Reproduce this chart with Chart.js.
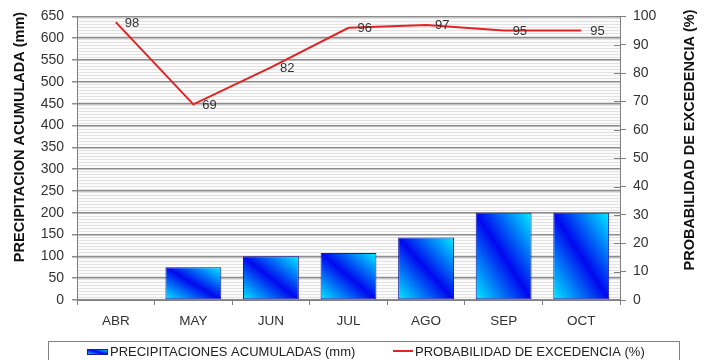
<!DOCTYPE html>
<html>
<head>
<meta charset="utf-8">
<script src="https://cdn.jsdelivr.net/npm/chart.js@4.4.1/dist/chart.umd.min.js"></script>
<style>
  html, body { margin: 0; padding: 0; background: #fff; }
  #wrap { width: 712px; height: 360px; }
</style>
</head>
<body>
<div id="wrap"><canvas id="grafico" width="712" height="360"></canvas></div>
<script>
    var meses = ['ABR', 'MAY', 'JUN', 'JUL', 'AGO', 'SEP', 'OCT'];
    var precipitacion = [0, 75, 100, 108, 143, 200, 200];
    var probabilidad = [98, 69, 82, 96, 97, 95, 95];
    var ticksMm = { min: 0, max: 650, step: 50 };
    var ticksPct = { min: 0, max: 100, step: 10 };

    var fuente = '"Liberation Sans", Arial, sans-serif';
    var anchoBarra = 0.72;

    // degradado diagonal: azul en la diagonal, celeste en las esquinas
    function degradado(ctx, x0, y0, w, h) {
        var cx = x0 + w / 2, cy = y0 + h / 2;
        var k = (w * h) / (w * w + h * h);
        var g = ctx.createLinearGradient(cx - k * h, cy + k * w, cx + k * h, cy - k * w);
        g.addColorStop(0, '#00f0ff');
        g.addColorStop(0.5, '#0008f0');
        g.addColorStop(1, '#00f0ff');
        return g;
    }

    function colorBarra(c) {
        var chart = c.chart;
        if (!chart.chartArea || c.dataIndex === undefined) return '#0000ff';
        var sx = chart.scales.x, sy = chart.scales.y;
        var w = sx.width / meses.length * anchoBarra;
        var cx = sx.getPixelForValue(c.dataIndex);
        var top = sy.getPixelForValue(c.raw);
        var base = sy.getPixelForValue(0);
        if (base - top <= 0) return '#0000ff';
        return degradado(chart.ctx, cx - w / 2, top, w, base - top);
    }

    // fondo rayado del area del grafico
    var fondo = {
        id: 'fondo',
        beforeDraw: function (chart) {
            var ctx = chart.ctx, a = chart.chartArea;
            ctx.save();
            ctx.fillStyle = '#ffffff';
            ctx.fillRect(0, 0, chart.width, chart.height);
            var p = document.createElement('canvas');
            p.width = 4; p.height = 3;
            var pc = p.getContext('2d');
            pc.fillStyle = '#fbfbfb';
            pc.fillRect(0, 0, 4, 3);
            pc.fillStyle = '#e2e2e2';
            pc.fillRect(0, 0, 4, 1);
            ctx.fillStyle = ctx.createPattern(p, 'repeat');
            ctx.fillRect(a.left, a.top, a.right - a.left, a.bottom - a.top);
            ctx.restore();
        }
    };

    // valores de probabilidad junto a cada punto
    var etiquetas = {
        id: 'etiquetas',
        afterDatasetsDraw: function (chart) {
            var ctx = chart.ctx;
            var meta = chart.getDatasetMeta(1);
            ctx.save();
            ctx.font = '13px ' + fuente;
            ctx.fillStyle = '#333';
            ctx.textAlign = 'left';
            ctx.textBaseline = 'middle';
            meta.data.forEach(function (pt, i) {
                ctx.fillText(String(probabilidad[i]), pt.x + 9, pt.y + 1);
            });
            ctx.restore();
        }
    };

    // titulos de ejes, marcas internas del eje derecho y leyenda
    var extras = {
        id: 'extras',
        afterDraw: function (chart) {
            var ctx = chart.ctx, a = chart.chartArea;
            ctx.save();
            ctx.fillStyle = '#111';
            ctx.font = 'bold 14.5px ' + fuente;
            ctx.textAlign = 'center';
            ctx.textBaseline = 'middle';
            ctx.translate(20, 137);
            ctx.rotate(-Math.PI / 2);
            ctx.fillText('PRECIPITACION ACUMULADA (mm)', 0, 0);
            ctx.restore();

            ctx.save();
            ctx.fillStyle = '#111';
            ctx.font = 'bold 14.5px ' + fuente;
            ctx.textAlign = 'center';
            ctx.textBaseline = 'middle';
            ctx.translate(690, 140);
            ctx.rotate(-Math.PI / 2);
            ctx.fillText('PROBABILIDAD DE EXCEDENCIA (%)', 0, 0);
            ctx.restore();

            var y1 = chart.scales.y1;
            ctx.save();
            ctx.strokeStyle = '#808080';
            ctx.lineWidth = 1;
            y1.ticks.forEach(function (t) {
                var py = Math.round(y1.getPixelForValue(t.value)) + 0.5;
                ctx.beginPath();
                ctx.moveTo(a.right - 6, py);
                ctx.lineTo(a.right, py);
                ctx.stroke();
            });
            ctx.restore();

            // leyenda
            ctx.save();
            ctx.strokeStyle = '#808080';
            ctx.lineWidth = 1;
            ctx.strokeRect(48.5, 341.5, 631, 30);
            ctx.fillStyle = degradado(ctx, 87, 349, 21, 6);
            ctx.fillRect(87, 349, 21, 6);
            ctx.strokeStyle = '#1c1ca0';
            ctx.strokeRect(87.5, 349.5, 20, 5);
            ctx.strokeStyle = '#e02424';
            ctx.lineWidth = 2;
            ctx.beginPath();
            ctx.moveTo(393, 351);
            ctx.lineTo(413, 351);
            ctx.stroke();
            ctx.fillStyle = '#222';
            ctx.font = '13px ' + fuente;
            ctx.textAlign = 'left';
            ctx.textBaseline = 'middle';
            ctx.fillText('PRECIPITACIONES ACUMULADAS (mm)', 110, 352);
            ctx.fillText('PROBABILIDAD DE EXCEDENCIA (%)', 415, 352);
            ctx.restore();
        }
    };

    var ctx = document.getElementById('grafico').getContext('2d');

    var grafico = new Chart(ctx, {
        type: 'bar',
        data: {
            labels: meses,
            datasets: [{
                type: 'bar',
                label: 'PRECIPITACIONES ACUMULADAS (mm)',
                data: precipitacion,
                yAxisID: 'y',
                backgroundColor: colorBarra,
                borderColor: '#1c1ca0',
                borderWidth: 1,
                borderSkipped: false,
                barPercentage: anchoBarra,
                categoryPercentage: 1,
                order: 2
            }, {
                type: 'line',
                label: 'PROBABILIDAD DE EXCEDENCIA (%)',
                data: probabilidad,
                yAxisID: 'y1',
                borderColor: '#e02424',
                borderWidth: 2,
                pointRadius: 0,
                tension: 0,
                fill: false,
                order: 1
            }]
        },
        options: {
            responsive: false,
            animation: false,
            layout: { padding: { top: 14, left: 0, right: 0, bottom: 0 } },
            plugins: {
                legend: { display: false },
                tooltip: { enabled: false }
            },
            scales: {
                x: {
                    offset: true,
                    grid: { offset: true, drawOnChartArea: false, tickLength: 5, color: '#808080' },
                    border: { color: '#808080' },
                    ticks: { color: '#333', font: { family: fuente, size: 13.5 }, padding: 8 },
                    afterFit: function (s) { s.height = 60; }
                },
                y: {
                    position: 'left',
                    min: ticksMm.min,
                    max: ticksMm.max,
                    ticks: { stepSize: ticksMm.step, color: '#333', font: { family: fuente, size: 14 }, padding: 8 },
                    grid: { color: '#8c8c8c', lineWidth: 1.5, tickLength: 5 },
                    border: { color: '#808080' },
                    afterFit: function (s) { s.width = 77; }
                },
                y1: {
                    position: 'right',
                    min: ticksPct.min,
                    max: ticksPct.max,
                    ticks: { stepSize: ticksPct.step, color: '#333', font: { family: fuente, size: 14 }, padding: 7 },
                    grid: { drawOnChartArea: false, tickLength: 6, color: '#808080' },
                    border: { color: '#808080' },
                    afterFit: function (s) { s.width = 92; }
                }
            }
        },
        plugins: [fondo, etiquetas, extras]
    });
</script>
</body>
</html>
